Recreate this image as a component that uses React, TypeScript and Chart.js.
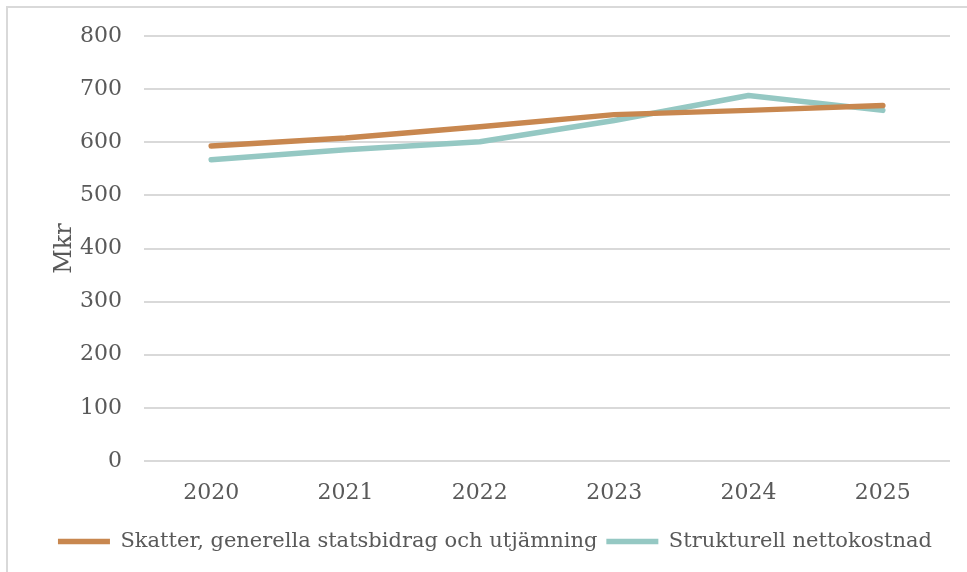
import React, { useEffect, useRef } from "react";
import { Chart, registerables } from "chart.js";

Chart.register(...registerables);

const years = ["2020", "2021", "2022", "2023", "2024", "2025"];
const skatter = [593, 608, 629, 652, 660, 669];
const nettokostnad = [567, 586, 601, 641, 688, 660];
const seriesLabels = [
  "Skatter, generella statsbidrag och utjämning",
  "Strukturell nettokostnad",
];
const yTitle = "Mkr";

const FONT = "'DejaVu Serif', Georgia, serif";
const TEXT = "#595959";

export default function App() {
  const ref = useRef<HTMLCanvasElement | null>(null);

  useEffect(() => {
    if (!ref.current) return;
    const chart = new Chart(ref.current, {
      type: "line",
      data: {
        labels: years,
        datasets: [
          {
            label: seriesLabels[0],
            data: skatter,
            borderColor: "#C8874F",
            backgroundColor: "#C8874F",
            borderWidth: 5.5,
            borderCapStyle: "round",
            borderJoinStyle: "round",
            pointRadius: 0,
            tension: 0,
          },
          {
            label: seriesLabels[1],
            data: nettokostnad,
            borderColor: "#95C8C3",
            backgroundColor: "#95C8C3",
            borderWidth: 5.5,
            borderCapStyle: "round",
            borderJoinStyle: "round",
            pointRadius: 0,
            tension: 0,
          },
        ],
      },
      options: {
        animation: false,
        responsive: false,
        layout: { padding: { left: 40, right: 17, top: 36, bottom: 10 } },
        plugins: {
          tooltip: { enabled: false },
          legend: {
            position: "bottom",
            labels: {
              usePointStyle: true,
              pointStyle: "line",
              pointStyleWidth: 52,
              boxHeight: 21,
              color: TEXT,
              font: { family: FONT, size: 21 },
              padding: 9,
            },
          },
        },
        scales: {
          x: {
            offset: true,
            grid: { display: false, drawTicks: false },
            border: { display: false },
            ticks: { color: TEXT, font: { family: FONT, size: 22 }, padding: 19 },
            afterFit: (s: any) => {
              s.height = 61;
            },
          },
          y: {
            min: 0,
            max: 800,
            ticks: {
              stepSize: 100,
              color: TEXT,
              font: { family: FONT, size: 22 },
              padding: 22,
            },
            grid: { color: "#D9D9D9", lineWidth: 2, drawTicks: false },
            border: { display: false },
            title: {
              display: true,
              text: yTitle,
              color: TEXT,
              font: { family: FONT, size: 24 },
              padding: { top: 10, bottom: 0 },
            },
            afterFit: (s: any) => {
              s.width = 104;
            },
          },
        },
      },
    });
    return () => chart.destroy();
  }, []);

  return (
    <div style={{ position: "absolute", left: 0, top: 0, width: 967, height: 572, background: "#fff", overflow: "hidden" }}>
      <div
        style={{
          position: "absolute",
          left: 6,
          top: 6,
          width: 980,
          height: 600,
          borderLeft: "2px solid #D9D9D9",
          borderTop: "2px solid #D9D9D9",
        }}
      />
      <canvas ref={ref} width={967} height={572} style={{ position: "absolute", left: 0, top: 0 }} />
    </div>
  );
}
